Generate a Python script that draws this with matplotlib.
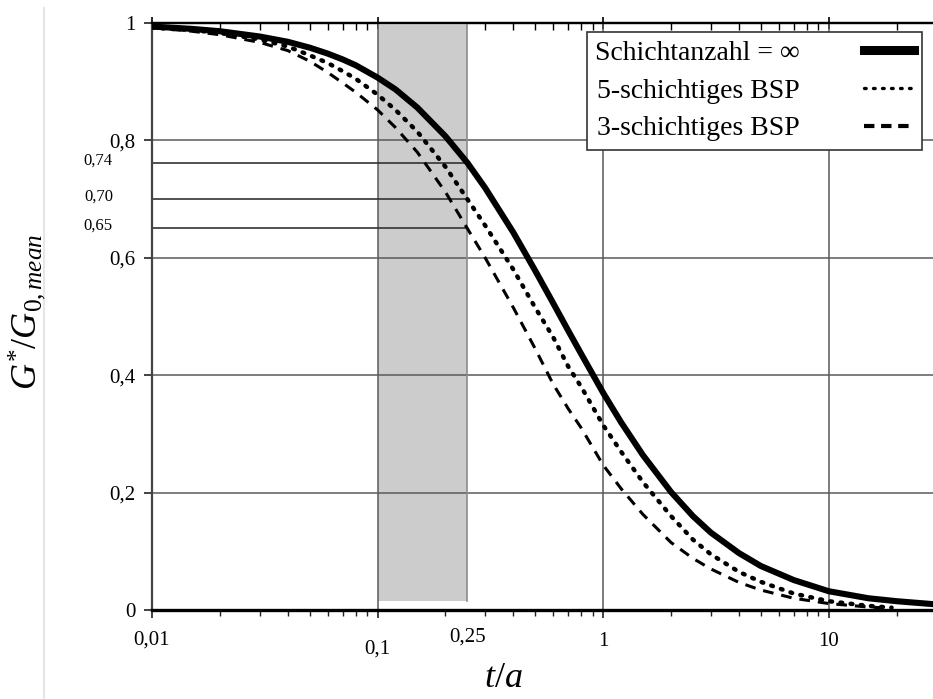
import matplotlib
matplotlib.use("Agg")
import matplotlib.pyplot as plt
from matplotlib.lines import Line2D

plt.rcParams['font.family'] = ['Liberation Serif', 'DejaVu Serif']
plt.rcParams['mathtext.fontset'] = 'custom'
plt.rcParams['mathtext.it'] = 'Liberation Serif:italic'
plt.rcParams['mathtext.rm'] = 'Liberation Serif'

# values
t_inf = [0.01, 0.015, 0.02, 0.03, 0.04, 0.05, 0.06, 0.07, 0.08, 0.1, 0.12, 0.15, 0.2, 0.25,
         0.3, 0.4, 0.5, 0.6, 0.7, 0.8, 1.0, 1.2, 1.5, 2.0, 2.5, 3.0, 4.0, 5.0, 7.0, 10.0,
         15.0, 20.0, 29.0]
g_inf = [0.994, 0.990, 0.986, 0.977, 0.968, 0.958, 0.948, 0.938, 0.928, 0.907, 0.887, 0.856,
         0.807, 0.762, 0.719, 0.643, 0.578, 0.523, 0.476, 0.436, 0.370, 0.320, 0.264, 0.201,
         0.160, 0.132, 0.097, 0.075, 0.051, 0.032, 0.020, 0.015, 0.010]

t_5 = [0.01, 0.015, 0.02, 0.03, 0.04, 0.05, 0.06, 0.07, 0.08, 0.1, 0.12, 0.15, 0.2, 0.25,
       0.3, 0.4, 0.5, 0.6, 0.7, 0.8, 1.0, 1.2, 1.5, 2.0, 2.5, 3.0, 4.0, 5.0, 7.0, 10.0,
       15.0, 19.0]
g_5 = [0.992, 0.988, 0.983, 0.972, 0.960, 0.945, 0.932, 0.918, 0.905, 0.878, 0.852, 0.815,
       0.755, 0.700, 0.655, 0.580, 0.515, 0.465, 0.415, 0.380, 0.315, 0.270, 0.218, 0.160,
       0.120, 0.095, 0.065, 0.048, 0.028, 0.015, 0.007, 0.004]

t_3 = [0.01, 0.015, 0.02, 0.03, 0.04, 0.05, 0.06, 0.07, 0.08, 0.1, 0.12, 0.15, 0.2, 0.25,
       0.3, 0.4, 0.5, 0.6, 0.7, 0.8, 1.0, 1.2, 1.5, 2.0, 2.5, 3.0, 4.0, 5.0, 7.0, 10.0,
       15.0, 19.0]
g_3 = [0.992, 0.986, 0.980, 0.967, 0.953, 0.935, 0.916, 0.898, 0.882, 0.852, 0.822, 0.780,
       0.712, 0.650, 0.600, 0.515, 0.445, 0.385, 0.343, 0.310, 0.247, 0.207, 0.163, 0.115,
       0.088, 0.070, 0.047, 0.034, 0.020, 0.011, 0.005, 0.003]

labels = ['Schichtanzahl = \u221e', '5-schichtiges BSP', '3-schichtiges BSP']

shade_range = (0.1, 0.25)
ref_levels = [0.762, 0.70, 0.65]
ref_labels = ['0,74', '0,70', '0,65']

y_ticks = [0, 0.2, 0.4, 0.6, 0.8, 1.0]
y_ticklabels = ['0', '0,2', '0,4', '0,6', '0,8', '1']
x_major = [0.01, 0.1, 1, 10]
x_ticklabels = {0.01: '0,01', 0.1: '0,1', 0.25: '0,25', 1: '1', 10: '10'}
x_label_y = {0.01: -0.052, 0.1: -0.067, 0.25: -0.046, 1: -0.053, 10: -0.053}

fig = plt.figure(figsize=(9.33, 6.99), dpi=100)
ax = fig.add_axes([152 / 933, 89 / 699, 781 / 933, 587 / 699])
ax.set_xscale('log')
ax.set_xlim(0.01, 29)
ax.set_ylim(0, 1)

# shaded region + helper lines
ax.axvspan(*shade_range, ymin=0.015, ymax=1, color='#cccccc', lw=0, zorder=0.2)
ax.plot([shade_range[1], shade_range[1]], [0.015, 1], color='#8c8c8c', lw=1.2, zorder=0.6)
for lvl in ref_levels:
    ax.plot([0.01, shade_range[1]], [lvl, lvl], color='#333333', lw=1.2, zorder=1)

# curves
ax.plot(t_inf, g_inf, color='black', lw=4.4, solid_capstyle='round',
        solid_joinstyle='round', zorder=3)
ax.plot(t_5, g_5, color='black', lw=3.2, linestyle=(0, (0.4, 1.9)),
        dash_capstyle='round', zorder=3)
ax.plot(t_3, g_3, color='black', lw=2.2, linestyle=(0, (3.5, 2.6)), zorder=3)

# grid
ax.set_axisbelow(True)
ax.set_xticks(x_major)
ax.set_xticklabels([])
ax.set_yticks(y_ticks)
ax.set_yticklabels(y_ticklabels, fontsize=15)
ax.grid(True, which='major', color='#5a5a5a', lw=1.1)

ax.tick_params(axis='x', which='major', direction='out', length=6, width=1.2, color='#222222')
ax.tick_params(axis='x', which='minor', direction='out', length=4, width=1.0, color='#222222',
               labelbottom=False)
ax.tick_params(axis='y', direction='out', length=6, width=1.2, pad=6, color='#222222')

top = ax.secondary_xaxis('top')
top.tick_params(axis='x', which='major', direction='inout', length=8, width=1.2)
top.tick_params(axis='x', which='minor', direction='in', length=5, width=1.0)
top.set_xticks(x_major)
top.set_xticklabels([])
top.tick_params(axis='x', which='minor', labeltop=False)
top.spines['top'].set_linewidth(1.6)

ax.spines['right'].set_visible(False)
ax.spines['top'].set_linewidth(1.6)
ax.spines['left'].set_linewidth(1.6)
ax.spines['left'].set_color('#444444')
ax.spines['bottom'].set_linewidth(2.4)

# x tick labels (the 0,1 label sits lower in the original)
for xv, txt in x_ticklabels.items():
    ax.text(xv, x_label_y[xv], txt, transform=ax.get_xaxis_transform(),
            ha='center', va='center', fontsize=15)

# extra y labels for the reference levels
for lvl, txt in zip(ref_levels, ref_labels):
    ax.text(-0.05, lvl + 0.004, txt, transform=ax.get_yaxis_transform(),
            ha='right', va='center', fontsize=12)

# legend
handles = [Line2D([], [], color='black', lw=6.5),
           Line2D([], [], color='black', lw=2.4, linestyle=(0, (0.5, 2.2)), dash_capstyle='round'),
           Line2D([], [], color='black', lw=3.0, linestyle=(0, (2.5, 1.6)))]
leg = ax.legend(handles, labels, loc='upper right', bbox_to_anchor=(0.986, 0.985),
                borderaxespad=0, markerfirst=False, fontsize=20, handlelength=1.8,
                handletextpad=2.3, labelspacing=0.45, borderpad=0.3, fancybox=False,
                framealpha=1, edgecolor='#333333')
leg.get_frame().set_linewidth(1.2)
leg.set_zorder(5)

# axis labels
fig.text(27 / 933, 1 - 312 / 699, r'$G^{*}/G_{0,mean}$', rotation=90, fontsize=26,
         ha='center', va='center')
fig.text(503 / 933, 1 - 662 / 699, r'$t/a$', fontsize=26, ha='center', va='top')

# thin light border line on the left of the original screenshot
fig.add_artist(Line2D([44 / 933, 44 / 933], [0.0, 1 - 8 / 699], color='#e6e6e6', lw=1.5))

fig.savefig('out.png', dpi=100)
